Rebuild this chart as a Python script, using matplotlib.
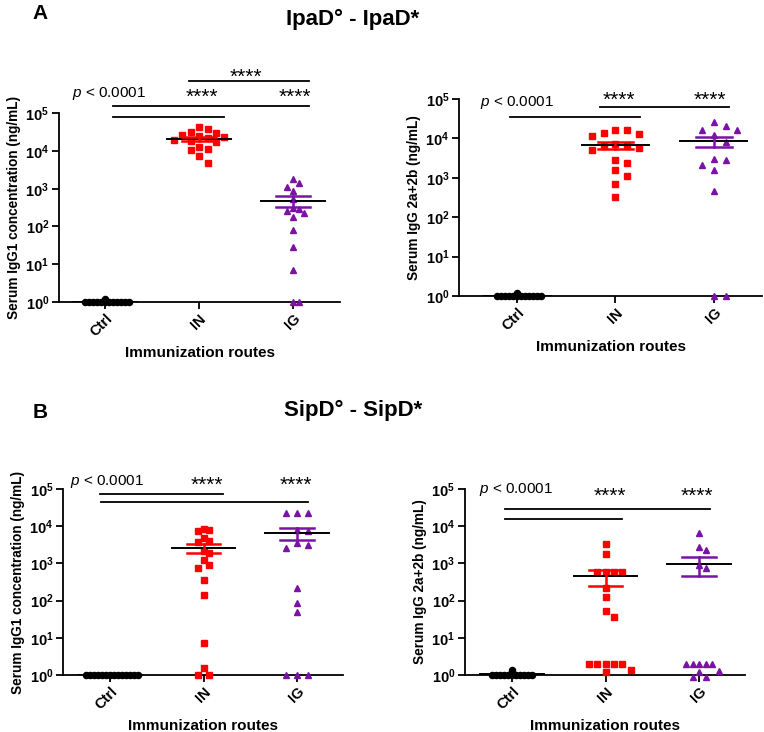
import numpy as np
import matplotlib
matplotlib.use("Agg")
import matplotlib.pyplot as plt

plt.rcParams["font.family"] = ["Liberation Sans", "DejaVu Sans"]
plt.rcParams["mathtext.fontset"] = "custom"
plt.rcParams["mathtext.rm"] = "Liberation Sans"
plt.rcParams["mathtext.bf"] = "Liberation Sans:bold"
plt.rcParams["mathtext.it"] = "Liberation Sans:italic"

GROUPS = ["Ctrl", "IN", "IG"]
COLORS = ["black", "#ff0000", "#7a12a6"]
MARKERS = ["o", "s", "^"]

# IpaD, IgG1
ipa_igg1_ctrl = [1.2] + [1.0] * 12
ipa_igg1_in = [42000, 37000, 31000, 29000, 26000, 25000, 23000, 22000, 20000, 18000,
               17000, 13000, 11000, 10700, 7400, 4800]
ipa_igg1_ig = [1800, 1440, 1120, 875, 520, 313, 283, 262, 225, 174, 80, 28.5, 7.2, 1.0, 1.0]

# IpaD, IgG2a+2b
ipa_igg2_ctrl = [1.2] + [1.0] * 12
ipa_igg2_in = [16000, 16000, 13700, 13100, 11300, 7300, 7000, 6300, 5700, 4950, 2900,
               2350, 1540, 1120, 710, 335]
ipa_igg2_ig = [26500, 20300, 16000, 16000, 12400, 8300, 2970, 2760, 2150, 1540, 470, 1.0, 1.0]

# SipD, IgG1
sip_igg1_ctrl = [1.0] * 14
sip_igg1_in = [8500, 8150, 7350, 4900, 3950, 3700, 2140, 1860, 1240, 910, 770, 360, 138,
               7.2, 1.5, 1.0, 1.0]
sip_igg1_ig = [22800, 22800, 22800, 8150, 7350, 3560, 3220, 2650, 224, 85, 48, 1.0, 1.0, 1.0]

# SipD, IgG2a+2b
sip_igg2_ctrl = [1.0] * 11 + [1.2, 1.35]
sip_igg2_in = [3320, 1790, 575, 575, 575, 575, 214, 123, 54, 36, 2.0, 2.0, 2.0, 2.0, 2.0,
               1.4, 1.2]
sip_igg2_ig = [6600, 2700, 2340, 910, 740, 2.0, 2.0, 2.0, 2.0, 2.0, 1.25, 1.18, 0.9, 0.9]

YLABEL_IGG1 = "Serum IgG1 concentration (ng/mL)"
YLABEL_IGG2 = "Serum IgG 2a+2b (ng/mL)"


def swarm(values, dx, dy):
    """simple beeswarm offsets in category units; dy in decades"""
    logs = np.log10(values)
    order = np.argsort(-logs, kind="stable")
    placed = []
    offsets = np.zeros(len(values))
    for i in order:
        k = 0
        while True:
            step = (k + 1) // 2 * (1 if k % 2 else -1) if k else 0
            off = step * dx
            if all(abs(off - po) >= dx * 0.99 or abs(logs[i] - pl) >= dy for po, pl in placed):
                break
            k += 1
        offsets[i] = off
        placed.append((off, logs[i]))
    return offsets


def panel(fig, rect, data, ylabel, xlim, dxs, notes):
    ax = fig.add_axes(rect)
    ax.set_yscale("log")
    ax.set_ylim(1, 1e5)
    ax.set_xlim(*xlim)
    for g, vals in enumerate(data):
        vals = np.asarray(vals, dtype=float)
        off = swarm(vals, dxs[g], 0.22 if g else 0.05)
        ms = 4.4 if g == 0 else 5.0
        ax.plot(g + off, vals, MARKERS[g], color=COLORS[g], ms=ms, mec=COLORS[g],
                clip_on=False, zorder=3)
        mean = vals.mean()
        sem = vals.std(ddof=1) / np.sqrt(len(vals))
        ax.plot([g - 0.34, g + 0.34], [mean, mean], color="black", lw=1.4, zorder=4)
        if g:
            lo, hi = max(mean - sem, 1.0), mean + sem
            ax.plot([g, g], [lo, hi], color=COLORS[g], lw=1.8, zorder=4)
            for v in (lo, hi):
                ax.plot([g - 0.18, g + 0.18], [v, v], color=COLORS[g], lw=1.8, zorder=4)
    ax.spines["top"].set_visible(False)
    ax.spines["right"].set_visible(False)
    for s in ("left", "bottom"):
        ax.spines[s].set_linewidth(1.3)
    ax.set_yticks([10.0 ** k for k in range(6)])
    ax.set_yticklabels([r"$\mathbf{10^{%d}}$" % k for k in range(6)], fontsize=10.5)
    ax.minorticks_off()
    ax.set_xticks(range(3))
    ax.set_xticklabels(GROUPS, rotation=45, ha="right", rotation_mode="anchor",
                       fontsize=10.5, fontweight="bold")
    ax.tick_params(axis="both", width=1.3, length=5, pad=2)
    ax.set_ylabel(ylabel, fontsize=9.8, fontweight="bold", labelpad=3)
    ax.set_xlabel("Immunization routes", fontsize=11, fontweight="bold", labelpad=5)
    # significance notes
    ptxt, stars, lines = notes
    ax.text(ptxt[0], 10 ** ptxt[1], r"$\it{p}$ < 0.0001", fontsize=11, ha="left",
            va="center")
    for x, y in stars:
        ax.text(x, 10 ** (y - 0.08), "****", fontsize=15, ha="center", va="center")
    for x0, x1, y in lines:
        ax.plot([x0, x1], [10 ** y, 10 ** y], color="black", lw=1.3, clip_on=False)
    return ax


fig = plt.figure(figsize=(7.64, 7.32), dpi=100)

panel(fig, [0.0772, 0.5874, 0.368, 0.258],
      [ipa_igg1_ctrl, ipa_igg1_in, ipa_igg1_ig], YLABEL_IGG1, (-0.49, 2.5),
      [0.043, 0.09, 0.06],
      ((-0.35, 5.53), [(1.03, 5.5), (2.02, 5.5), (1.5, 6.03)],
       [(0.085, 1.26, 4.89), (0.085, 2.17, 5.19), (0.89, 2.17, 5.85)]))

panel(fig, [0.6008, 0.5956, 0.3966, 0.2691],
      [ipa_igg2_ctrl, ipa_igg2_in, ipa_igg2_ig], YLABEL_IGG2, (-0.59, 2.49),
      [0.041, 0.12, 0.12],
      ((-0.38, 4.92), [(1.04, 5.05), (1.96, 5.05)],
       [(-0.07, 1.25, 4.54), (0.84, 2.15, 4.80)]))

panel(fig, [0.0825, 0.0779, 0.3665, 0.254],
      [sip_igg1_ctrl, sip_igg1_in, sip_igg1_ig], YLABEL_IGG1, (-0.503, 2.49),
      [0.043, 0.06, 0.12],
      ((-0.43, 5.19), [(1.03, 5.19), (1.99, 5.19)],
       [(-0.11, 1.21, 4.87), (-0.10, 2.12, 4.65)]))

panel(fig, [0.6086, 0.0779, 0.3665, 0.254],
      [sip_igg2_ctrl, sip_igg2_in, sip_igg2_ig], YLABEL_IGG2, (-0.503, 2.49),
      [0.043, 0.09, 0.07],
      ((-0.35, 5.0), [(1.05, 4.89), (1.98, 4.89)],
       [(-0.07, 2.12, 4.46), (-0.07, 1.18, 4.19)]))

fig.text(0.043, 0.982, "A", fontsize=15, fontweight="bold", ha="left", va="center")
fig.text(0.462, 0.973, "IpaD° - IpaD*", fontsize=16, fontweight="bold", ha="center", va="center")
fig.text(0.043, 0.437, "B", fontsize=15, fontweight="bold", ha="left", va="center")
fig.text(0.462, 0.439, "SipD° - SipD*", fontsize=16, fontweight="bold", ha="center", va="center")

fig.savefig("out.png", dpi=100)
plt.close(fig)
